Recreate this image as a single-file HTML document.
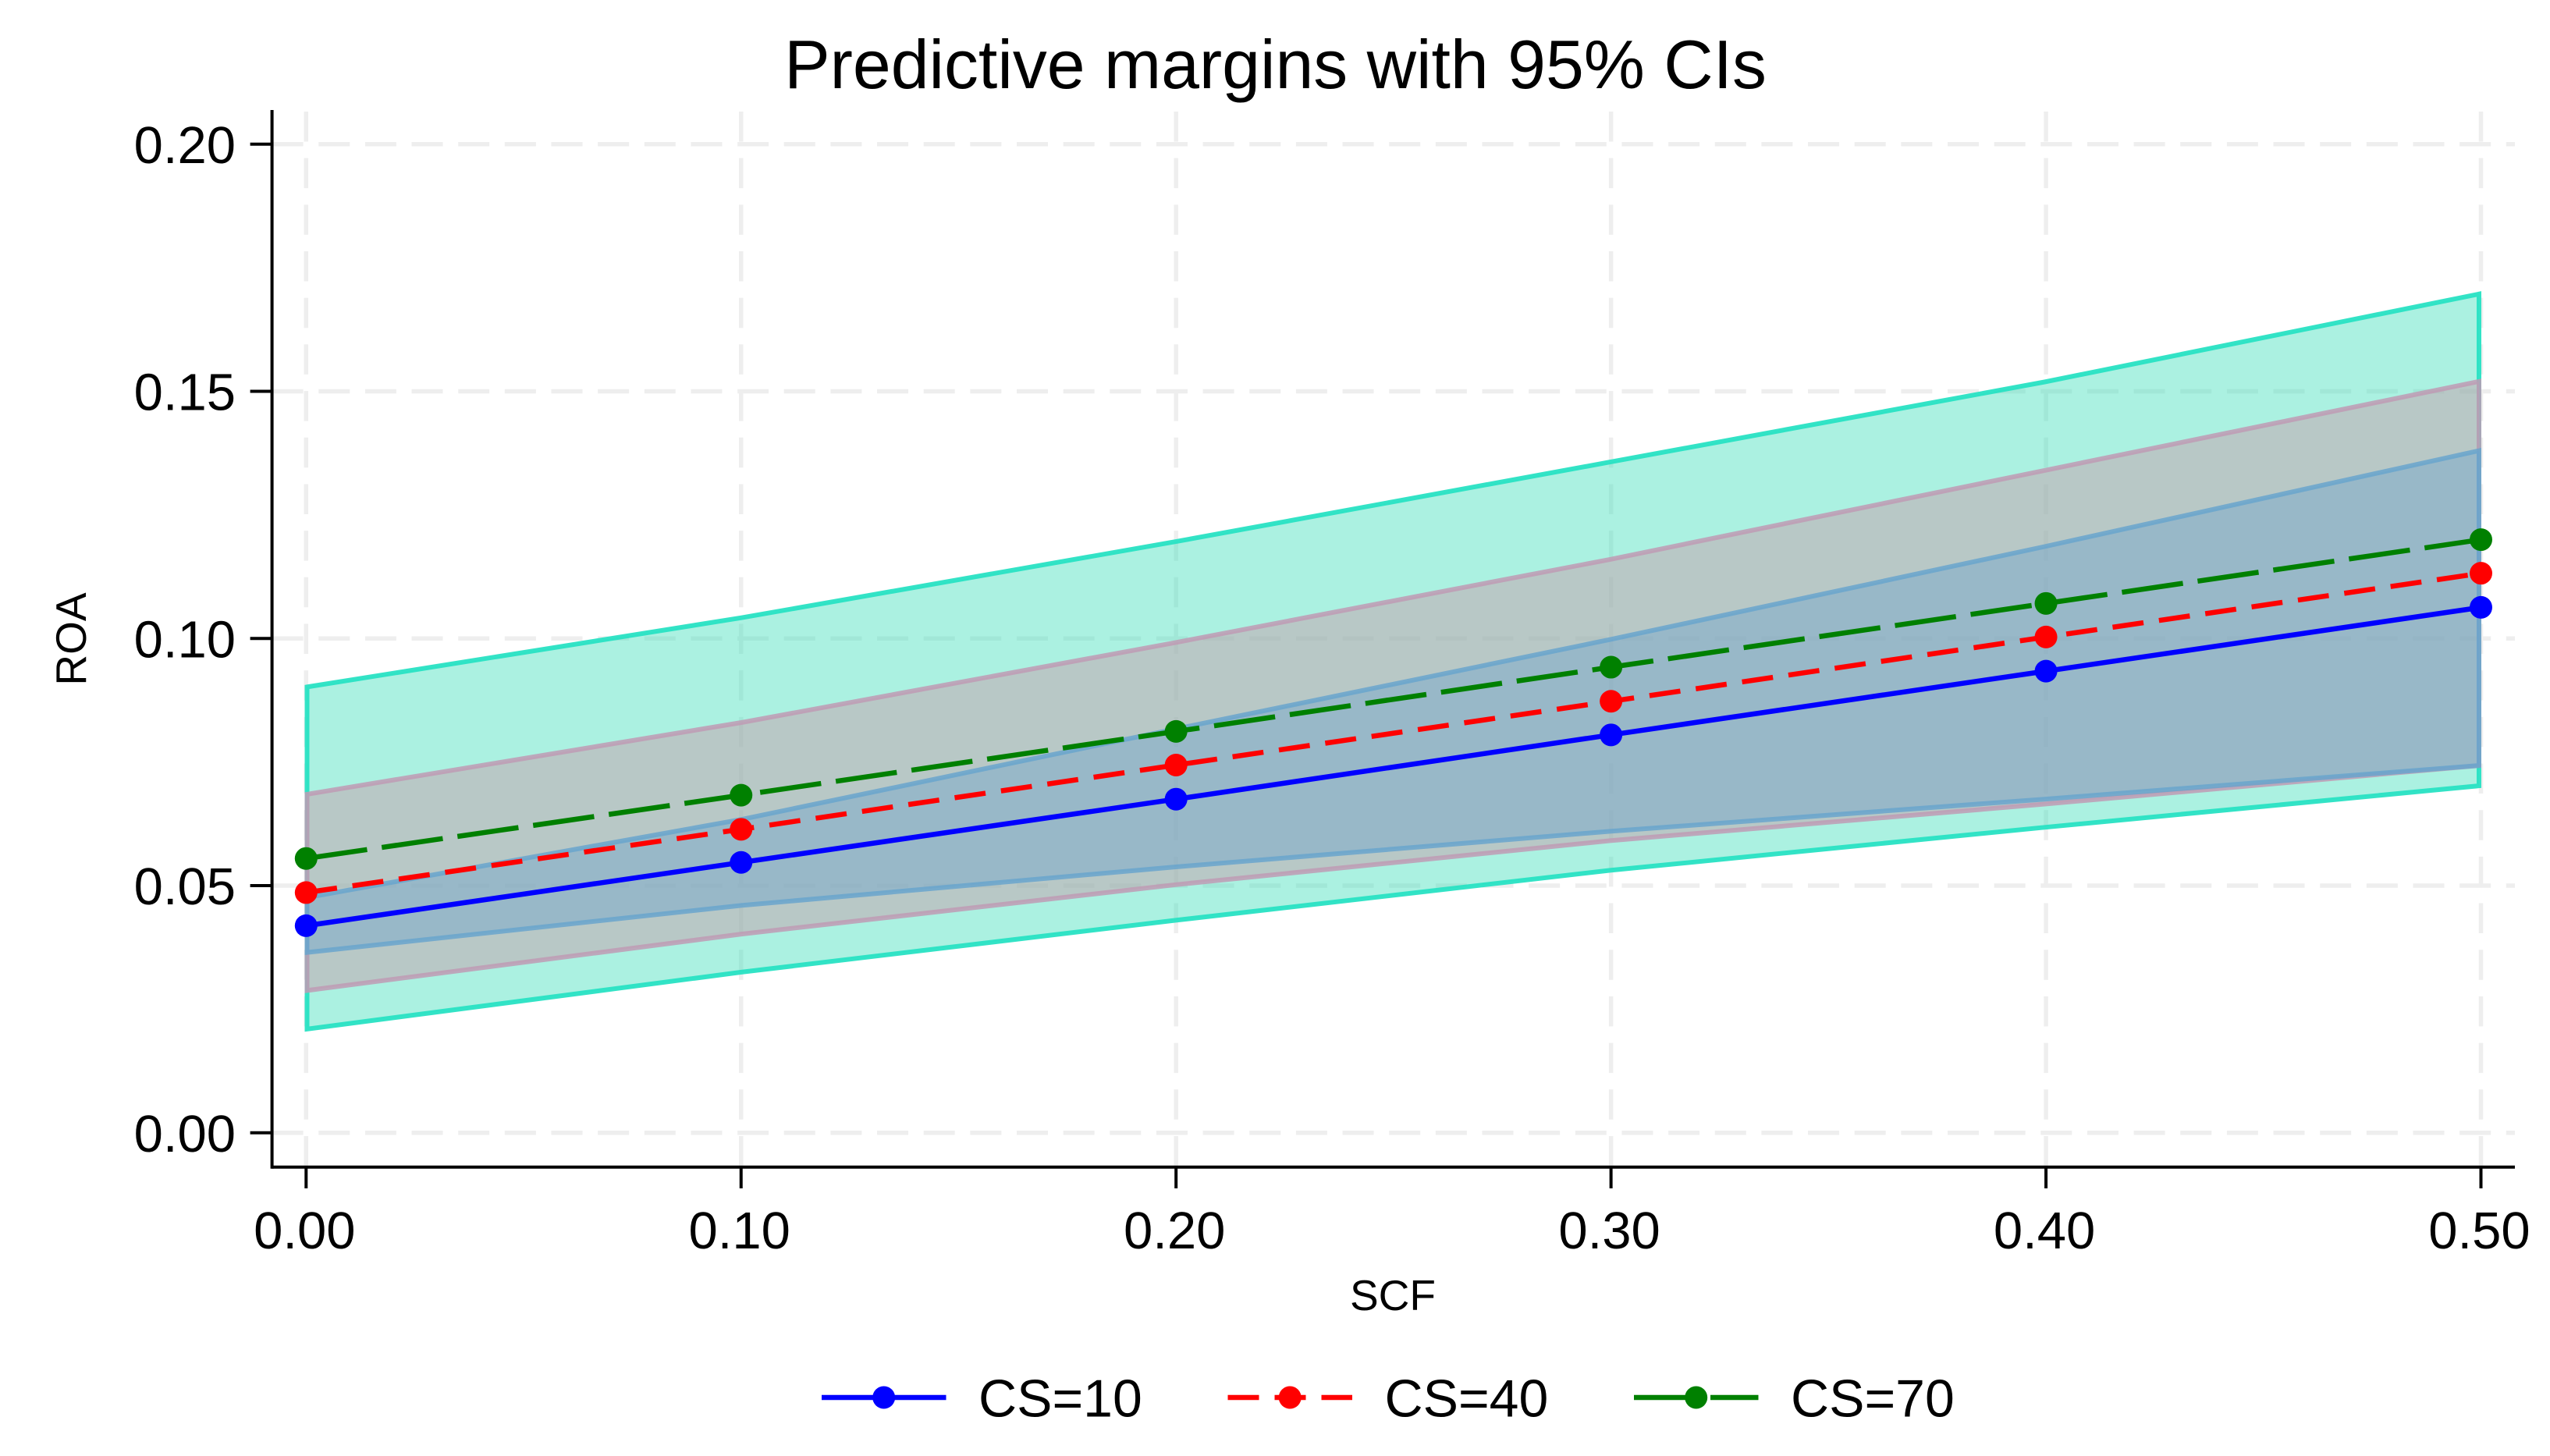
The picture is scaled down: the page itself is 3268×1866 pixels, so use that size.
<!DOCTYPE html>
<html lang="en">
<head>
<meta charset="utf-8">
<title>Predictive margins with 95% CIs</title>
<style>
  html, body { margin: 0; padding: 0; background: #fff; }
  svg { display: block; }
  text { font-family: "Liberation Sans", Arial, sans-serif; fill: #000; }
</style>
</head>
<body>
<svg id="chart" xmlns="http://www.w3.org/2000/svg" width="3268" height="1866" viewBox="0 0 3268 1866">
  <rect x="0" y="0" width="3268" height="1866" fill="#ffffff"/>
  <g id="grid"></g>
  <g id="bands"></g>
  <g id="axes"></g>
  <g id="series"></g>
  <g id="legend"></g>
  <text x="1634.5" y="113" font-size="87.8" text-anchor="middle">Predictive margins with 95% CIs</text>
  <text x="1785" y="1679" font-size="55" text-anchor="middle">SCF</text>
  <text x="0" y="0" font-size="55" text-anchor="middle" transform="translate(110 819) rotate(-90)">ROA</text>
</svg>
<script>
const categories = [0, 0.1, 0.2, 0.3, 0.4, 0.5];
const xTickLabels = ['0.00', '0.10', '0.20', '0.30', '0.40', '0.50'];
const yTicks = [0, 0.05, 0.1, 0.15, 0.2];
const yTickLabels = ['0.00', '0.05', '0.10', '0.15', '0.20'];

const seriesNames = ['CS=10', 'CS=40', 'CS=70'];
const cs10 = [0.0419, 0.0547, 0.0675, 0.0805, 0.0934, 0.1063];
const cs40 = [0.0486, 0.0614, 0.0744, 0.0873, 0.1003, 0.1132];
const cs70 = [0.0555, 0.0683, 0.0812, 0.0942, 0.1071, 0.1200];

const cs10Upper = [0.0476, 0.0634, 0.0817, 0.0998, 0.1186, 0.1380];
const cs10Lower = [0.0365, 0.0460, 0.0538, 0.0610, 0.0675, 0.0743];
const cs40Upper = [0.0685, 0.0830, 0.0992, 0.1160, 0.1340, 0.1520];
const cs40Lower = [0.0288, 0.0402, 0.0502, 0.0591, 0.0665, 0.0743];
const cs70Upper = [0.0902, 0.1042, 0.1196, 0.1357, 0.1519, 0.1697];
const cs70Lower = [0.0210, 0.0325, 0.0430, 0.0531, 0.0618, 0.0702];

const NS = 'http://www.w3.org/2000/svg';
const X0 = 392.3, XPER = 5574.4;
const BX0 = 393.5, BXPER = 5567;
const Y0 = 1451.8, YPER = 6335;
const AXL = 348.6, AXB = 1495.8, AXR = 3223, AXT = 141;

function sx(v) { return X0 + v * XPER; }
function bx(v) { return BX0 + v * BXPER; }
function sy(v) { return Y0 - v * YPER; }

function make(tag, attrs, parent) {
  const el = document.createElementNS(NS, tag);
  for (const k in attrs) el.setAttribute(k, attrs[k]);
  parent.appendChild(el);
  return el;
}

const gridG = document.getElementById('grid');
yTicks.forEach(function (t) {
  const el = make('line', { x1: AXL, x2: AXR, y1: sy(t), y2: sy(t), stroke: '#eeeeee', 'stroke-width': 5.5, 'stroke-dasharray': '40 19.65' }, gridG);
  
  
});
categories.forEach(function (c) {
  const el = make('line', { x1: sx(c), x2: sx(c), y1: 143, y2: AXB, stroke: '#eeeeee', 'stroke-width': 5.5, 'stroke-dasharray': '38.5 21.18' }, gridG);
  
  
});

function bandPoints(upper, lower) {
  const pts = [];
  categories.forEach(function (c, i) { pts.push(bx(c).toFixed(1) + ',' + sy(upper[i]).toFixed(1)); });
  for (let i = categories.length - 1; i >= 0; i--) pts.push(bx(categories[i]).toFixed(1) + ',' + sy(lower[i]).toFixed(1));
  return pts.join(' ');
}
const bandsG = document.getElementById('bands');

const band70 = make('polygon', { points: bandPoints(cs70Upper, cs70Lower), fill: 'rgb(45,220,180)', 'fill-opacity': 0.4, stroke: 'rgb(40,225,195)', 'stroke-opacity': 0.95, 'stroke-width': 6 }, bandsG);



const band40 = make('polygon', { points: bandPoints(cs40Upper, cs40Lower), fill: 'rgb(197,159,171)', 'fill-opacity': 0.5, stroke: 'rgb(190,155,180)', 'stroke-opacity': 0.85, 'stroke-width': 6 }, bandsG);



const band10 = make('polygon', { points: bandPoints(cs10Upper, cs10Lower), fill: 'rgb(120,168,202)', 'fill-opacity': 0.5, stroke: 'rgb(105,165,205)', 'stroke-opacity': 0.85, 'stroke-width': 6 }, bandsG);



const axesG = document.getElementById('axes');
const yAxis = make('line', { x1: AXL, x2: AXL, y1: AXT, y2: AXB + 2, stroke: '#000', 'stroke-width': 4 }, axesG);


const xAxis = make('line', { x1: AXL, x2: AXR, y1: AXB, y2: AXB, stroke: '#000', 'stroke-width': 4 }, axesG);



yTicks.forEach(function (t, i) {
  const tick = make('line', { x1: 320.6, x2: AXL, y1: sy(t), y2: sy(t), stroke: '#000', 'stroke-width': 4 }, axesG);
  
  
  const lab = make('text', { x: 302, y: sy(t) + 24, 'font-size': 67, 'text-anchor': 'end' }, axesG);
  
  
  lab.textContent = yTickLabels[i];
});
categories.forEach(function (c, i) {
  const tick = make('line', { x1: sx(c), x2: sx(c), y1: AXB, y2: 1523, stroke: '#000', 'stroke-width': 4 }, axesG);
  
  
  const lab = make('text', { x: sx(c) - 2, y: 1600, 'font-size': 67, 'text-anchor': 'middle' }, axesG);
  
  
  lab.textContent = xTickLabels[i];
});

const seriesValues = [cs10, cs40, cs70];
const seriesColors = ['#0000ff', '#ff0000', '#008000'];
const seriesDash = ['none', '40 20', '79 19'];
const seriesG = document.getElementById('series');
seriesValues.forEach(function (vals, s) {
  const pts = categories.map(function (c, i) { return sx(c).toFixed(1) + ',' + sy(vals[i]).toFixed(1); }).join(' ');
  const line = make('polyline', { points: pts, fill: 'none', stroke: seriesColors[s], 'stroke-width': 6.5, 'stroke-dasharray': seriesDash[s] }, seriesG);
  
  
});
seriesValues.forEach(function (vals, s) {
  categories.forEach(function (c, i) {
    const dot = make('circle', { cx: sx(c), cy: sy(vals[i]), r: 14.5, fill: seriesColors[s] }, seriesG);
    
    
  });
});

const legendG = document.getElementById('legend');
seriesNames.forEach(function (name, s) {
  const x1 = 1053 + s * 520.5;
  const line = make('line', { x1: x1, x2: x1 + 159.5, y1: 1791, y2: 1791, stroke: seriesColors[s], 'stroke-width': 6.5, 'stroke-dasharray': seriesDash[s] }, legendG);
  
  
  const dot = make('circle', { cx: x1 + 79.7, cy: 1791, r: 14.5, fill: seriesColors[s] }, legendG);
  
  
  const lab = make('text', { x: x1 + 201, y: 1815.5, 'font-size': 68 }, legendG);
  
  
  lab.textContent = name;
});
</script>
</body>
</html>
